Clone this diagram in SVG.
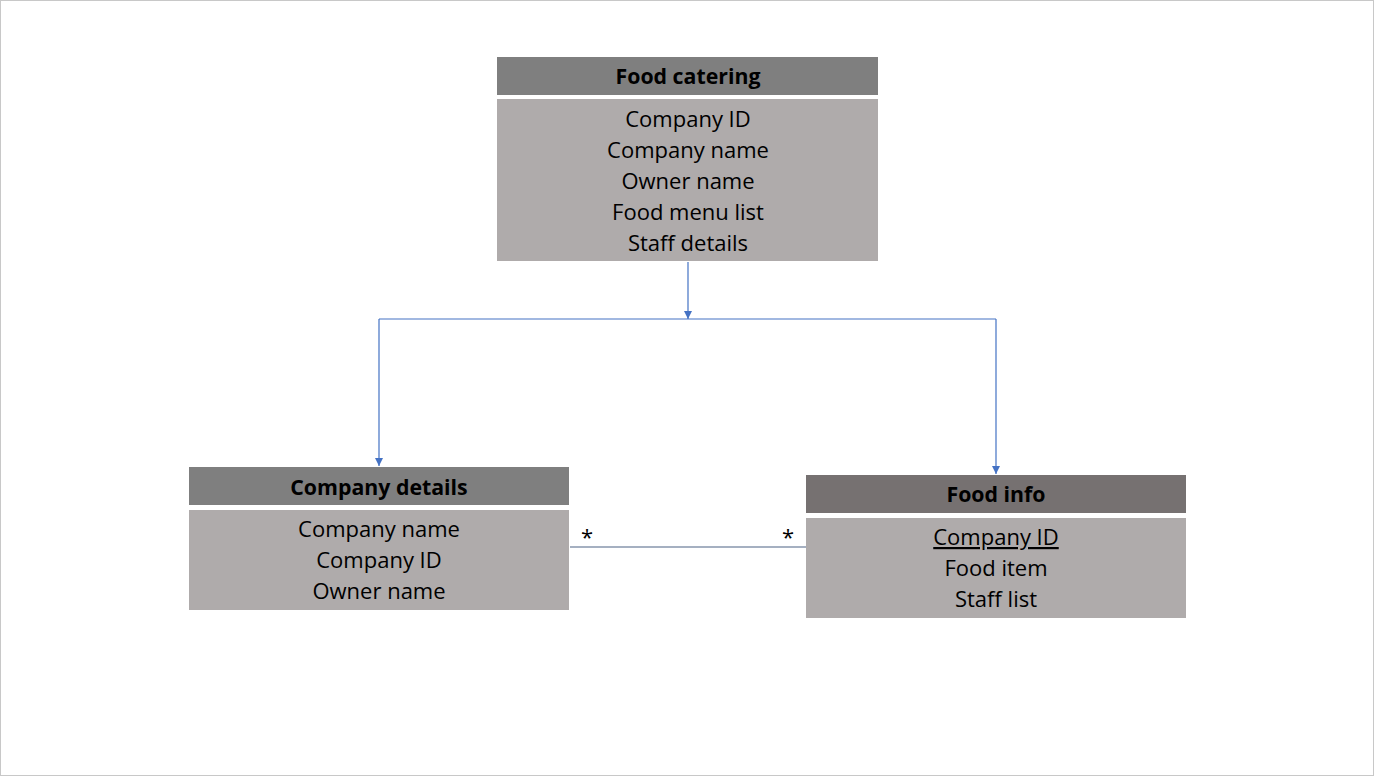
<svg xmlns="http://www.w3.org/2000/svg" width="1375" height="778" viewBox="0 0 1375 778">
<style>
text{font-family:"Open Sans","Liberation Sans",sans-serif;fill:#000;text-anchor:middle}
.h{font-size:21.3px;font-weight:bold}
.r{font-size:22px}
.hd{fill:#7f7f7f}
.hd2{fill:#767171}
.bd{fill:#afabab}
.c{stroke:#4472c4;stroke-width:1.2;fill:none}
</style>
<defs>
<marker id="a" viewBox="0 0 10 10" refX="10" refY="5" markerWidth="8" markerHeight="8" markerUnits="userSpaceOnUse" orient="auto">
<path d="M0,0 L10,5 L0,10 z" fill="#4472c4"/>
</marker>
</defs>
<rect x="0.5" y="0.5" width="1373" height="775" fill="#fff" stroke="#c8c8c8"/>
<g id="food-catering">
<rect class="hd" x="497" y="57" width="381" height="38"/>
<rect class="bd" x="497" y="99" width="381" height="162"/>
<text class="h" x="688" y="84">Food catering</text>
<text class="r" x="688" y="127">Company ID</text>
<text class="r" x="688" y="158">Company name</text>
<text class="r" x="688" y="189">Owner name</text>
<text class="r" x="688" y="220">Food menu list</text>
<text class="r" x="688" y="251">Staff details</text>
</g>
<g id="company-details">
<rect class="hd" x="189" y="467" width="380" height="38"/>
<rect class="bd" x="189" y="510" width="380" height="100"/>
<text class="h" x="379" y="495">Company details</text>
<text class="r" x="379" y="537">Company name</text>
<text class="r" x="379" y="568">Company ID</text>
<text class="r" x="379" y="599">Owner name</text>
</g>
<g id="food-info">
<rect class="hd2" x="806" y="475" width="380" height="38"/>
<rect class="bd" x="806" y="518" width="380" height="100"/>
<text class="h" x="996" y="502">Food info</text>
<text class="r" x="996" y="545" text-decoration="underline">Company ID</text>
<text class="r" x="996" y="576">Food item</text>
<text class="r" x="996" y="607">Staff list</text>
</g>
<g id="connectors">
<line class="c" x1="688" y1="262" x2="688" y2="319" marker-end="url(#a)"/>
<line class="c" x1="379" y1="319" x2="996" y2="319"/>
<line class="c" x1="379" y1="319" x2="379" y2="466" marker-end="url(#a)"/>
<line class="c" x1="996" y1="319" x2="996" y2="474" marker-end="url(#a)"/>
<line x1="570" y1="547" x2="806" y2="547" stroke="#4d6384" stroke-width="1.2"/>
<text class="r" x="587" y="545">*</text>
<text class="r" x="788" y="545">*</text>
</g>
</svg>
